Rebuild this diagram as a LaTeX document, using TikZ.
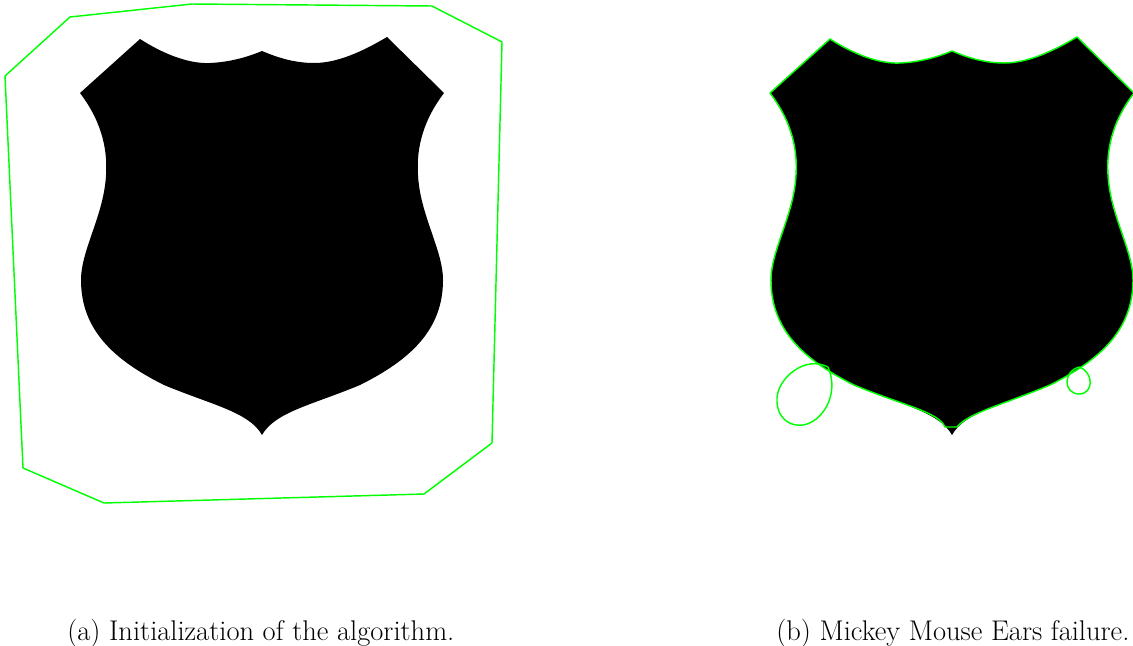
\documentclass[tikz,border=0pt]{standalone}
\usetikzlibrary{positioning}
\definecolor{snakegreen}{RGB}{0,255,0}
\tikzset{
  shield/.style={fill=black, draw=none},
  contour/.style={draw=snakegreen, line width=0.9pt, line join=round},
  caption/.style={anchor=base west, inner sep=0pt, text=black,
    font=\fontsize{17.8}{21}\selectfont},
}
% outline of the shield, in pixel-like units (y pointing down)
\def\shieldtop{(140,39) .. controls (165,55) and (190,64) .. (210,63)
  .. controls (232,62) and (250,56) .. (262,51)
  .. controls (274,56) and (292,63) .. (314,63)
  .. controls (336,63) and (360,53) .. (387,37)
  -- (444,93)
  .. controls (425,118) and (416,145) .. (418,175)
  .. controls (420,215) and (443,250) .. (443,280)
  .. controls (443,330) and (410,360) .. (360,385)}
\def\shieldbottom{.. controls (249,412) and (212,405) .. (164,385)
  .. controls (114,360) and (81,330) .. (81,280)
  .. controls (81,250) and (104,215) .. (106,175)
  .. controls (108,145) and (99,118) .. (80,93)
  -- cycle}

\begin{document}
\begin{tikzpicture}[x=0.625pt, y=-0.625pt]
  \useasboundingbox (0,0) rectangle (1133,645);

  % (a) shield with the initial polygon
  \fill[shield] \shieldtop .. controls (312,405) and (275,412) .. (262,435) \shieldbottom;
  \draw[contour] (70,17) -- (192,4) -- (432,6) -- (502,42) -- (492,443)
    -- (424,494) -- (104,503) -- (23,468) -- (5,76) -- cycle;

  % (b) shield with the converged contour and its loops
  \begin{scope}[shift={(690,0)}]
    \fill[shield] \shieldtop .. controls (312,405) and (275,412) .. (262,435) \shieldbottom;
    \draw[contour] \shieldtop .. controls (312,405) and (278,413) .. (267,427)
      -- (255,427) \shieldbottom;
  \end{scope}
  \draw[contour] (828,367) .. controls (805,355) and (778,378) .. (777,398)
    .. controls (776,418) and (790,427) .. (803,425)
    .. controls (822,422) and (840,395) .. (828,367);
  \draw[contour] (1079,367) .. controls (1062,372) and (1064,394) .. (1079,394)
    .. controls (1094,394) and (1094,372) .. (1079,367);

  % captions
  \node[caption] (capa) at (67,640) {(a) Initialization of the algorithm.};
  \node[caption] (capb) at (776,640) {(b) Mickey Mouse Ears failure.};
\end{tikzpicture}
\end{document}
